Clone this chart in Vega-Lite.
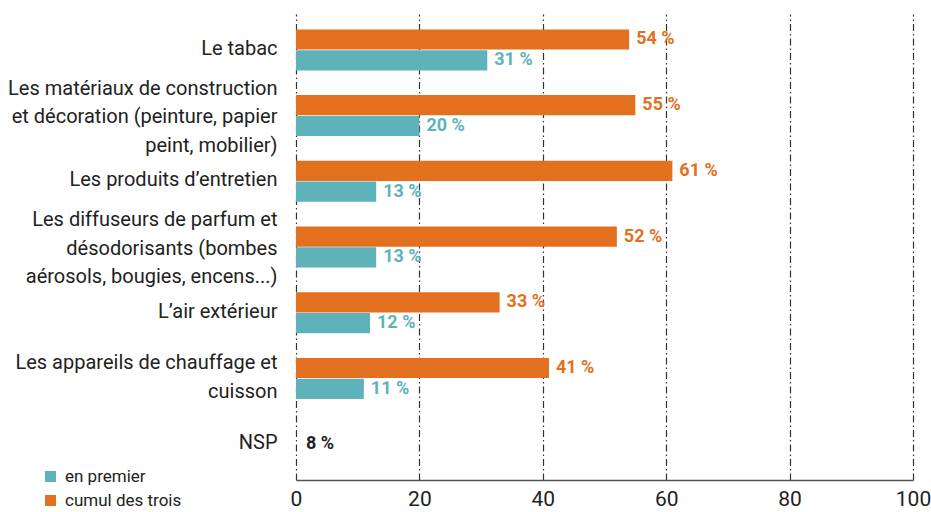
{
  "$schema": "https://vega.github.io/schema/vega-lite/v6.json",
  "width": 617,
  "height": 466,
  "autosize": {"type": "none"},
  "padding": {"left": 296, "top": 14, "right": 18, "bottom": 32},
  "background": "white",
  "config": {"view": {"stroke": null}, "font": "Roboto"},
  "data": {
    "values": [
      {"cat": "Le tabac", "series": "cumul des trois", "value": 54, "label": "54 %"},
      {"cat": "Le tabac", "series": "en premier", "value": 31, "label": "31 %"},
      {"cat": "Les matériaux de construction|et décoration (peinture, papier|peint, mobilier)", "series": "cumul des trois", "value": 55, "label": "55 %"},
      {"cat": "Les matériaux de construction|et décoration (peinture, papier|peint, mobilier)", "series": "en premier", "value": 20, "label": "20 %"},
      {"cat": "Les produits d’entretien", "series": "cumul des trois", "value": 61, "label": "61 %"},
      {"cat": "Les produits d’entretien", "series": "en premier", "value": 13, "label": "13 %"},
      {"cat": "Les diffuseurs de parfum et|désodorisants (bombes|aérosols, bougies, encens...)", "series": "cumul des trois", "value": 52, "label": "52 %"},
      {"cat": "Les diffuseurs de parfum et|désodorisants (bombes|aérosols, bougies, encens...)", "series": "en premier", "value": 13, "label": "13 %"},
      {"cat": "L’air extérieur", "series": "cumul des trois", "value": 33, "label": "33 %"},
      {"cat": "L’air extérieur", "series": "en premier", "value": 12, "label": "12 %"},
      {"cat": "Les appareils de chauffage et|cuisson", "series": "cumul des trois", "value": 41, "label": "41 %"},
      {"cat": "Les appareils de chauffage et|cuisson", "series": "en premier", "value": 11, "label": "11 %"},
      {"cat": "NSP", "series": "nsp", "value": 8, "label": "8 %"}
    ]
  },
  "encoding": {
    "y": {
      "field": "cat",
      "type": "nominal",
      "sort": null,
      "scale": {"paddingInner": 0.376, "paddingOuter": 0.234},
      "axis": {
        "title": null,
        "domain": false,
        "ticks": false,
        "labelExpr": "split(datum.label, '|')",
        "labelFontSize": 20,
        "labelColor": "#222222",
        "labelPadding": 19,
        "labelLineHeight": 28.5,
        "labelLimit": 320,
        "labelOffset": {
          "condition": [
            {"test": "length(split(datum.value, '|')) == 3", "value": -27},
            {"test": "length(split(datum.value, '|')) == 2", "value": -15}
          ],
          "value": -1
        }
      }
    }
  },
  "layer": [
    {
      "transform": [{"filter": "datum.series != 'nsp'"}],
      "mark": {"type": "bar", "cornerRadius": 0},
      "encoding": {
        "x": {
          "field": "value",
          "type": "quantitative",
          "scale": {"domain": [0, 100], "nice": false},
          "axis": {
            "title": null,
            "values": [0, 20, 40, 60, 80, 100],
            "grid": true,
            "gridDash": [7, 3, 1.5, 3],
            "gridColor": "#333333",
            "gridWidth": 1.2,
            "gridOpacity": 1,
            "domainColor": "#555555",
            "domainWidth": 1.5,
            "ticks": false,
            "labelFontSize": 21,
            "labelColor": "#222222",
            "labelPadding": 8,
            "labelFlush": false
          }
        },
        "yOffset": {"field": "series", "type": "nominal", "sort": ["cumul des trois", "en premier"], "scale": {"paddingInner": 0.03}},
        "color": {
          "field": "series",
          "type": "nominal",
          "scale": {"domain": ["en premier", "cumul des trois"], "range": ["#5EB3BA", "#E3701E"]},
          "legend": {
            "title": null,
            "orient": "none",
            "legendX": -254,
            "legendY": 454,
            "symbolType": "square",
            "symbolSize": 121,
            "symbolStrokeWidth": 0,
            "labelFontSize": 17,
            "labelColor": "#222222",
            "labelOffset": 6,
            "rowPadding": 6
          }
        }
      }
    },
    {
      "transform": [{"filter": "datum.series != 'nsp'"}],
      "mark": {"type": "text", "align": "left", "baseline": "middle", "dx": 7, "fontSize": 18, "fontWeight": "bold"},
      "encoding": {
        "x": {"field": "value", "type": "quantitative"},
        "yOffset": {"field": "series", "type": "nominal", "sort": ["cumul des trois", "en premier"]},
        "text": {"field": "label"},
        "color": {"field": "series", "type": "nominal", "legend": null}
      }
    },
    {
      "transform": [{"filter": "datum.series == 'nsp'"}],
      "mark": {"type": "text", "align": "left", "baseline": "middle", "dx": 10, "fontSize": 18, "fontWeight": "bold", "color": "#222222"},
      "encoding": {
        "x": {"datum": 0, "type": "quantitative"},
        "text": {"field": "label"}
      }
    }
  ]
}
